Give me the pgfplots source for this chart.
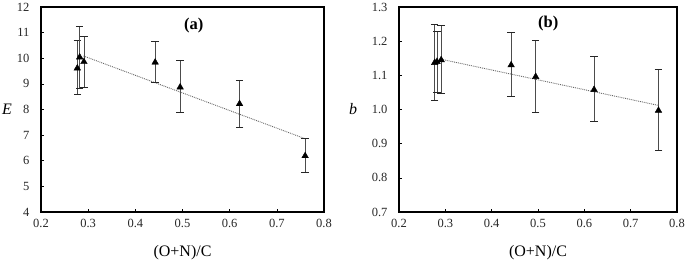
\documentclass[border=0pt]{standalone}
\usepackage{fontspec}
\setmainfont{Liberation Serif}
\usepackage{pgfplots}
\pgfplotsset{compat=1.18}
\usepackage{pgfplotstable}

\pgfplotstableread{
x y ep em
0.277 9.61 1.09 1.01
0.282 10.04 1.22 1.22
0.291 9.86 1.00 1.00
0.442 9.84 0.81 0.80
0.495 8.87 1.05 0.99
0.621 8.22 0.92 0.90
0.760 6.19 0.69 0.65
}\dataE

\pgfplotstableread{
x y ep em
0.277 1.137 0.111 0.111
0.282 1.140 0.089 0.089
0.291 1.145 0.100 0.097
0.442 1.130 0.096 0.093
0.495 1.096 0.106 0.105
0.621 1.058 0.098 0.093
0.760 0.997 0.119 0.118
}\dataB

\pgfplotsset{
  mystyle/.style={
    scale only axis,
    height=205pt,
    xmin=0.2, xmax=0.8,
    xtick={0.2,0.3,0.4,0.5,0.6,0.7,0.8},
    xtick pos=lower, ytick pos=left,
    tick align=inside,
    major tick length=3pt,
    axis line style={black, line width=1.1pt},
    tick style={black, line width=0.6pt},
    /pgf/number format/assume math mode=true,
    ticklabel style={font=\fontsize{12.5}{14}\selectfont, text=black!85},
    xticklabel style={yshift=-4pt, /pgf/number format/fixed, /pgf/number format/fixed zerofill, /pgf/number format/precision=1},
    xlabel={(O+N)/C},
    xlabel style={font=\fontsize{16}{18}\selectfont, at={(axis description cs:0.5,-0.197)}, anchor=center},
    ylabel style={font=\itshape\fontsize{16}{18}\selectfont, rotate=-90, anchor=center},
    yticklabel style={xshift=-8pt},
    clip=false,
  },
  mypts/.style={
    only marks, mark=triangle*, mark size=3.8pt, black,
    error bars/.cd, y dir=both, y explicit,
    error bar style={black!70, line width=0.8pt},
    error mark options={rotate=90, mark size=3.8pt, black!85, line width=0.8pt},
  },
}

\begin{document}
\begin{tikzpicture}
\useasboundingbox (0,0) rectangle (685pt,262pt);

\begin{axis}[mystyle,
  at={(41pt,50pt)}, anchor=south west,
  width=283pt,
  ymin=4, ymax=12, ytick={4,5,...,12},
  ylabel={E},
  ylabel style={at={(axis description cs:-0.12,0.5)}},
]
\addplot[densely dotted, black!60, line width=0.9pt] coordinates {(0.29,10.09) (0.76,6.86)};
\addplot[mypts] table[x=x, y=y, y error plus=ep, y error minus=em] {\dataE};
\node[font=\bfseries\fontsize{16.5}{18}\selectfont] at (axis description cs:0.54,0.91) {(a)};
\end{axis}

\begin{axis}[mystyle,
  at={(399pt,50pt)}, anchor=south west,
  width=278pt,
  ymin=0.7, ymax=1.3, ytick={0.7,0.8,...,1.3},
  yticklabel style={/pgf/number format/fixed, /pgf/number format/fixed zerofill, /pgf/number format/precision=1},
  ylabel={b},
  ylabel style={at={(axis description cs:-0.165,0.5)}},
]
\addplot[densely dotted, black!60, line width=0.9pt] coordinates {(0.291,1.147) (0.76,1.012)};
\addplot[mypts] table[x=x, y=y, y error plus=ep, y error minus=em] {\dataB};
\node[font=\bfseries\fontsize{16.5}{18}\selectfont] at (axis description cs:0.537,0.92) {(b)};
\end{axis}
\end{tikzpicture}
\end{document}
